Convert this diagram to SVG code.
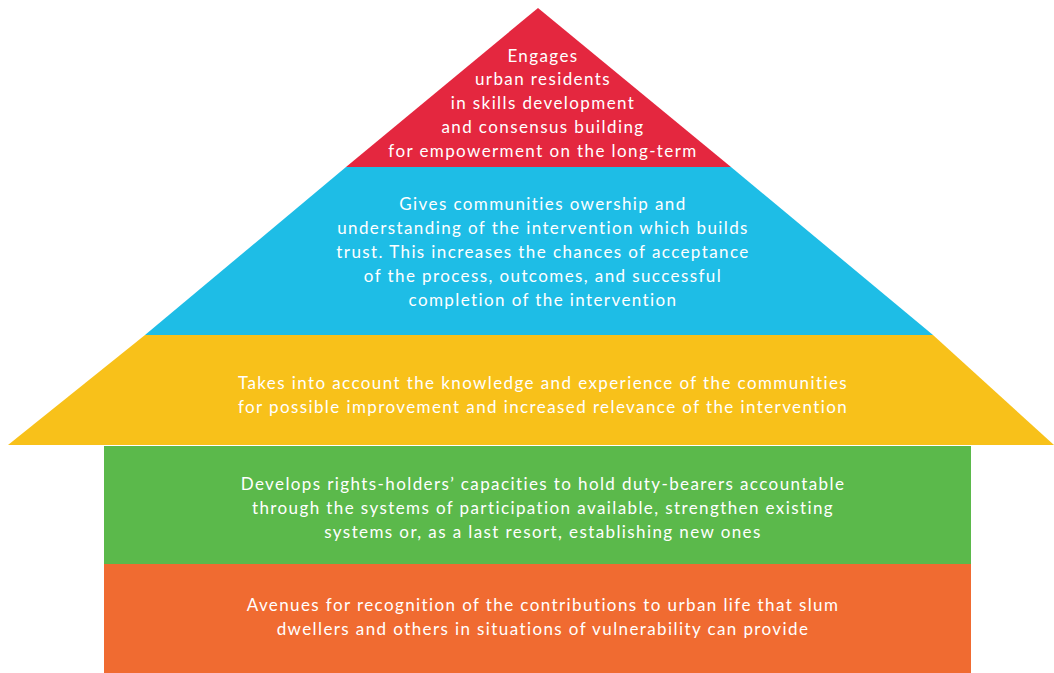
<svg xmlns="http://www.w3.org/2000/svg" width="1054" height="673" viewBox="0 0 1054 673">
<style>
text{font-family:"Lato","Open Sans",sans-serif;font-size:17px;letter-spacing:1.4px;fill:#ffffff;text-anchor:middle}
</style>
<rect width="1054" height="673" fill="#ffffff"/>
<g id="orange"><rect x="104" y="564" width="867" height="109" fill="#F06B31"/>
<text x="543" y="611">Avenues for recognition of the contributions to urban life that slum</text>
<text x="543" y="635">dwellers and others in situations of vulnerability can provide</text></g>
<g id="green"><rect x="104" y="446" width="867" height="118" fill="#5BB94B"/>
<text x="543" y="490">Develops rights-holders’ capacities to hold duty-bearers accountable</text>
<text x="543" y="514">through the systems of participation available, strengthen existing</text>
<text x="543" y="538">systems or, as a last resort, establishing new ones</text></g>
<g id="yellow"><polygon points="145,335 933,335 1054,445 8,445" fill="#F8C11A"/>
<text x="543" y="389">Takes into account the knowledge and experience of the communities</text>
<text x="543" y="413">for possible improvement and increased relevance of the intervention</text></g>
<g id="blue"><polygon points="346,167 731,167 933,335 145,335" fill="#1EBDE6"/>
<text x="543" y="210">Gives communities owership and</text>
<text x="543" y="234">understanding of the intervention which builds</text>
<text x="543" y="258">trust. This increases the chances of acceptance</text>
<text x="543" y="282">of the process, outcomes, and successful</text>
<text x="543" y="306">completion of the intervention</text></g>
<g id="red"><polygon points="538,8 731,167 346,167" fill="#E4273F"/>
<text x="543" y="62">Engages</text>
<text x="543" y="85">urban residents</text>
<text x="543" y="109">in skills development</text>
<text x="543" y="133">and consensus building</text>
<text x="543" y="157">for empowerment on the long-term</text></g>
</svg>
